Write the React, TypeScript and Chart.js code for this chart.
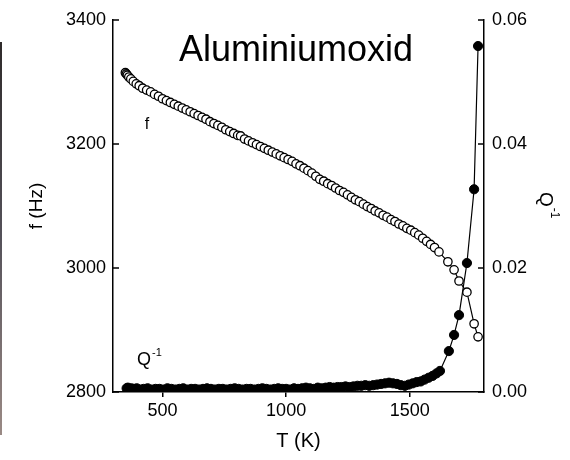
import React, { useEffect, useRef } from 'react';
import { Chart, registerables } from 'chart.js';

Chart.register(...registerables);

// Frequency f (open circles)
const T_F = [350, 354, 358, 364, 372, 382, 394, 406, 420, 436, 452, 468, 484, 500, 516, 532, 548, 564, 580, 596, 612, 628, 644, 660, 676, 692, 708, 724, 740, 756, 772, 788, 804, 816, 832, 848, 864, 880, 896, 912, 928, 944, 960, 976, 992, 1008, 1024, 1040, 1056, 1072, 1088, 1104, 1120, 1136, 1152, 1168, 1184, 1200, 1216, 1232, 1248, 1264, 1280, 1296, 1312, 1328, 1344, 1360, 1376, 1392, 1408, 1424, 1440, 1456, 1472, 1488, 1504, 1520, 1536, 1552, 1568, 1584, 1600, 1618, 1654, 1679, 1699, 1731, 1760, 1776];
const F_HZ = [3315, 3313, 3311, 3308, 3305, 3301, 3297, 3294, 3290, 3287, 3284, 3280, 3277, 3273, 3270, 3267, 3264, 3261, 3258, 3255, 3252, 3249, 3246, 3243, 3240, 3236, 3233, 3230, 3227, 3223, 3220, 3217, 3214, 3213, 3208, 3205, 3202, 3199, 3196, 3193, 3190, 3187, 3184, 3181, 3178, 3175, 3172, 3168, 3165, 3161, 3157, 3153, 3148, 3143, 3140, 3136, 3133, 3129, 3125, 3122, 3118, 3114, 3110, 3107, 3103, 3099, 3096, 3092, 3089, 3085, 3082, 3078, 3075, 3071, 3068, 3064, 3061, 3057, 3053, 3048, 3043, 3038, 3033, 3026, 3010, 2997, 2979, 2961, 2910, 2889];

// Internal friction Q^-1 (filled circles)
const T_Q = [355, 360, 366, 374, 384, 396, 410, 424, 440, 456, 472, 488, 504, 520, 536, 552, 568, 584, 600, 616, 632, 648, 664, 680, 696, 712, 728, 744, 760, 776, 792, 808, 824, 840, 856, 872, 888, 904, 920, 936, 952, 968, 984, 1000, 1016, 1032, 1048, 1064, 1080, 1096, 1112, 1128, 1144, 1160, 1176, 1192, 1208, 1224, 1240, 1256, 1272, 1288, 1304, 1320, 1336, 1352, 1368, 1384, 1400, 1416, 1432, 1448, 1464, 1480, 1496, 1512, 1528, 1544, 1560, 1576, 1592, 1608, 1622, 1658, 1679, 1699, 1731, 1760, 1776];
const Q_INV = [0.0006, 0.0007, 0.0005, 0.0006, 0.0005, 0.0006, 0.0004, 0.0005, 0.0006, 0.0004, 0.0005, 0.0005, 0.0004, 0.0006, 0.0005, 0.0004, 0.0005, 0.0006, 0.0004, 0.0005, 0.0005, 0.0004, 0.0005, 0.0006, 0.0005, 0.0004, 0.0005, 0.0005, 0.0004, 0.0005, 0.0006, 0.0005, 0.0004, 0.0005, 0.0005, 0.0004, 0.0005, 0.0006, 0.0005, 0.0004, 0.0005, 0.0006, 0.0005, 0.0005, 0.0004, 0.0006, 0.0005, 0.0006, 0.0007, 0.0006, 0.0005, 0.0007, 0.0006, 0.0007, 0.0008, 0.0007, 0.0008, 0.0008, 0.0009, 0.0008, 0.0009, 0.0010, 0.0010, 0.0011, 0.0010, 0.0011, 0.0012, 0.0013, 0.0014, 0.0015, 0.0014, 0.0013, 0.0011, 0.0010, 0.0012, 0.0014, 0.0016, 0.0017, 0.0020, 0.0023, 0.0026, 0.0030, 0.0034, 0.0066, 0.0092, 0.0124, 0.0208, 0.0327, 0.0558];

const T_TICKS = [500, 1000, 1500];
const F_TICKS = [2800, 3000, 3200, 3400];
const Q_TICKS = [0, 0.02, 0.04, 0.06];

const TITLE = 'Aluminiumoxid';
const F_LABEL = 'f';
const Q_LABEL = 'Q';
const Q_SUP = '-1';

const FONT = '"Liberation Sans", Arial, Helvetica, sans-serif';

const annotatePlugin = {
  id: 'annotate',
  afterDraw(chart: any) {
    const { ctx, chartArea, scales } = chart;
    const x = scales.x, y = scales.y, y1 = scales.y1;
    ctx.save();
    ctx.strokeStyle = '#000';
    ctx.lineWidth = 1.5;
    for (const v of F_TICKS) {
      const py = y.getPixelForValue(v);
      ctx.beginPath();
      ctx.moveTo(chartArea.left, py);
      ctx.lineTo(chartArea.left + 6, py);
      ctx.stroke();
    }
    for (const v of Q_TICKS) {
      const py = y1.getPixelForValue(v);
      ctx.beginPath();
      ctx.moveTo(chartArea.right, py);
      ctx.lineTo(chartArea.right - 6, py);
      ctx.stroke();
    }
    ctx.fillStyle = '#000';
    ctx.textBaseline = 'alphabetic';
    ctx.textAlign = 'center';
    ctx.font = `36px ${FONT}`;
    ctx.fillText(TITLE, x.getPixelForValue(1040), y.getPixelForValue(3334));
    ctx.font = `16px ${FONT}`;
    ctx.fillText(F_LABEL, x.getPixelForValue(437), y.getPixelForValue(3224));
    ctx.textAlign = 'left';
    ctx.font = `18px ${FONT}`;
    const qx = x.getPixelForValue(397);
    const qy = y1.getPixelForValue(0.0044);
    ctx.fillText(Q_LABEL, qx, qy);
    const w = ctx.measureText(Q_LABEL).width;
    ctx.font = `11px ${FONT}`;
    ctx.fillText(Q_SUP, qx + w + 1, qy - 9);

    // right axis title, rotated clockwise
    const cx = chart.width - 25;
    const cy = (chartArea.top + chartArea.bottom) / 2 - 14;
    ctx.translate(cx, cy);
    ctx.rotate(Math.PI / 2);
    ctx.textBaseline = 'middle';
    ctx.textAlign = 'left';
    ctx.font = `19px ${FONT}`;
    ctx.fillText(Q_LABEL, 0, 0);
    const wq = ctx.measureText(Q_LABEL).width;
    ctx.font = `12px ${FONT}`;
    ctx.fillText(Q_SUP, wq + 1, -9);
    ctx.restore();
  },
};

export default function App() {
  const ref = useRef<HTMLCanvasElement>(null);
  useEffect(() => {
    if (!ref.current) return;
    const tickFont = { family: FONT, size: 18 };
    const chart = new Chart(ref.current, {
      type: 'scatter',
      data: {
        datasets: [
          {
            label: 'Q-1',
            data: T_Q.map((t, i) => ({ x: t, y: Q_INV[i] })),
            yAxisID: 'y1',
            showLine: true,
            borderColor: '#000',
            borderWidth: 1.2,
            backgroundColor: '#000',
            pointBackgroundColor: '#000',
            pointBorderColor: '#000',
            pointBorderWidth: 1,
            pointRadius: 4.6,
            pointHoverRadius: 4.6,
          },
          {
            label: 'f',
            data: T_F.map((t, i) => ({ x: t, y: F_HZ[i] })),
            yAxisID: 'y',
            showLine: true,
            borderColor: '#000',
            borderWidth: 1.2,
            backgroundColor: '#fff',
            pointBackgroundColor: '#fff',
            pointBorderColor: '#000',
            pointBorderWidth: 1.3,
            pointRadius: 4.2,
            pointHoverRadius: 4.2,
          },
        ],
      },
      options: {
        responsive: false,
        animation: false,
        events: [],
        layout: { padding: { top: 20, left: 0, right: 0, bottom: 0 } },
        plugins: { legend: { display: false }, tooltip: { enabled: false }, title: { display: false } },
        scales: {
          x: {
            type: 'linear',
            position: 'bottom',
            min: 300,
            max: 1800,
            afterBuildTicks: (s: any) => { s.ticks = T_TICKS.map((v) => ({ value: v })); },
            afterFit: (s: any) => { s.height = 68; },
            grid: { display: true, drawOnChartArea: false, drawTicks: true, tickLength: 5, color: '#000', lineWidth: 1.5 },
            border: { display: true, color: '#000', width: 1.5 },
            ticks: { color: '#000', font: tickFont, padding: 3, maxRotation: 0, callback: (v: any) => String(v) },
            title: { display: true, text: 'T (K)', color: '#000', font: { family: FONT, size: 20 }, padding: { top: 0, bottom: 7 } },
          },
          y: {
            type: 'linear',
            position: 'left',
            min: 2800,
            max: 3400,
            afterBuildTicks: (s: any) => { s.ticks = F_TICKS.map((v) => ({ value: v })); },
            afterFit: (s: any) => { s.width = 113; },
            grid: { display: false, drawTicks: false },
            border: { display: true, color: '#000', width: 1.5 },
            ticks: { color: '#000', font: tickFont, padding: 7, callback: (v: any) => String(v) },
            title: { display: true, text: 'f (Hz)', color: '#000', font: { family: FONT, size: 19 }, padding: { top: 25, bottom: 0 } },
          },
          y1: {
            type: 'linear',
            position: 'right',
            min: 0,
            max: 0.06,
            afterBuildTicks: (s: any) => { s.ticks = Q_TICKS.map((v) => ({ value: v })); },
            afterFit: (s: any) => { s.width = 86; },
            grid: { display: false, drawTicks: false },
            border: { display: true, color: '#000', width: 1.5 },
            ticks: { color: '#000', font: tickFont, padding: 8, callback: (v: any) => Number(v).toFixed(2) },
            title: { display: false },
          },
        },
      },
      plugins: [annotatePlugin],
    });
    return () => chart.destroy();
  }, []);

  return (
    <div style={{ position: 'fixed', left: 0, top: 0, width: 570, height: 460, background: '#fff' }}>
      <div
        style={{
          position: 'absolute',
          left: 0,
          top: 42,
          width: 2,
          height: 393,
          background: 'linear-gradient(to bottom, #2f2b2b, #55525a 50%, #9a8a85)',
        }}
      />
      <canvas ref={ref} width={570} height={460} style={{ display: 'block' }} />
    </div>
  );
}
